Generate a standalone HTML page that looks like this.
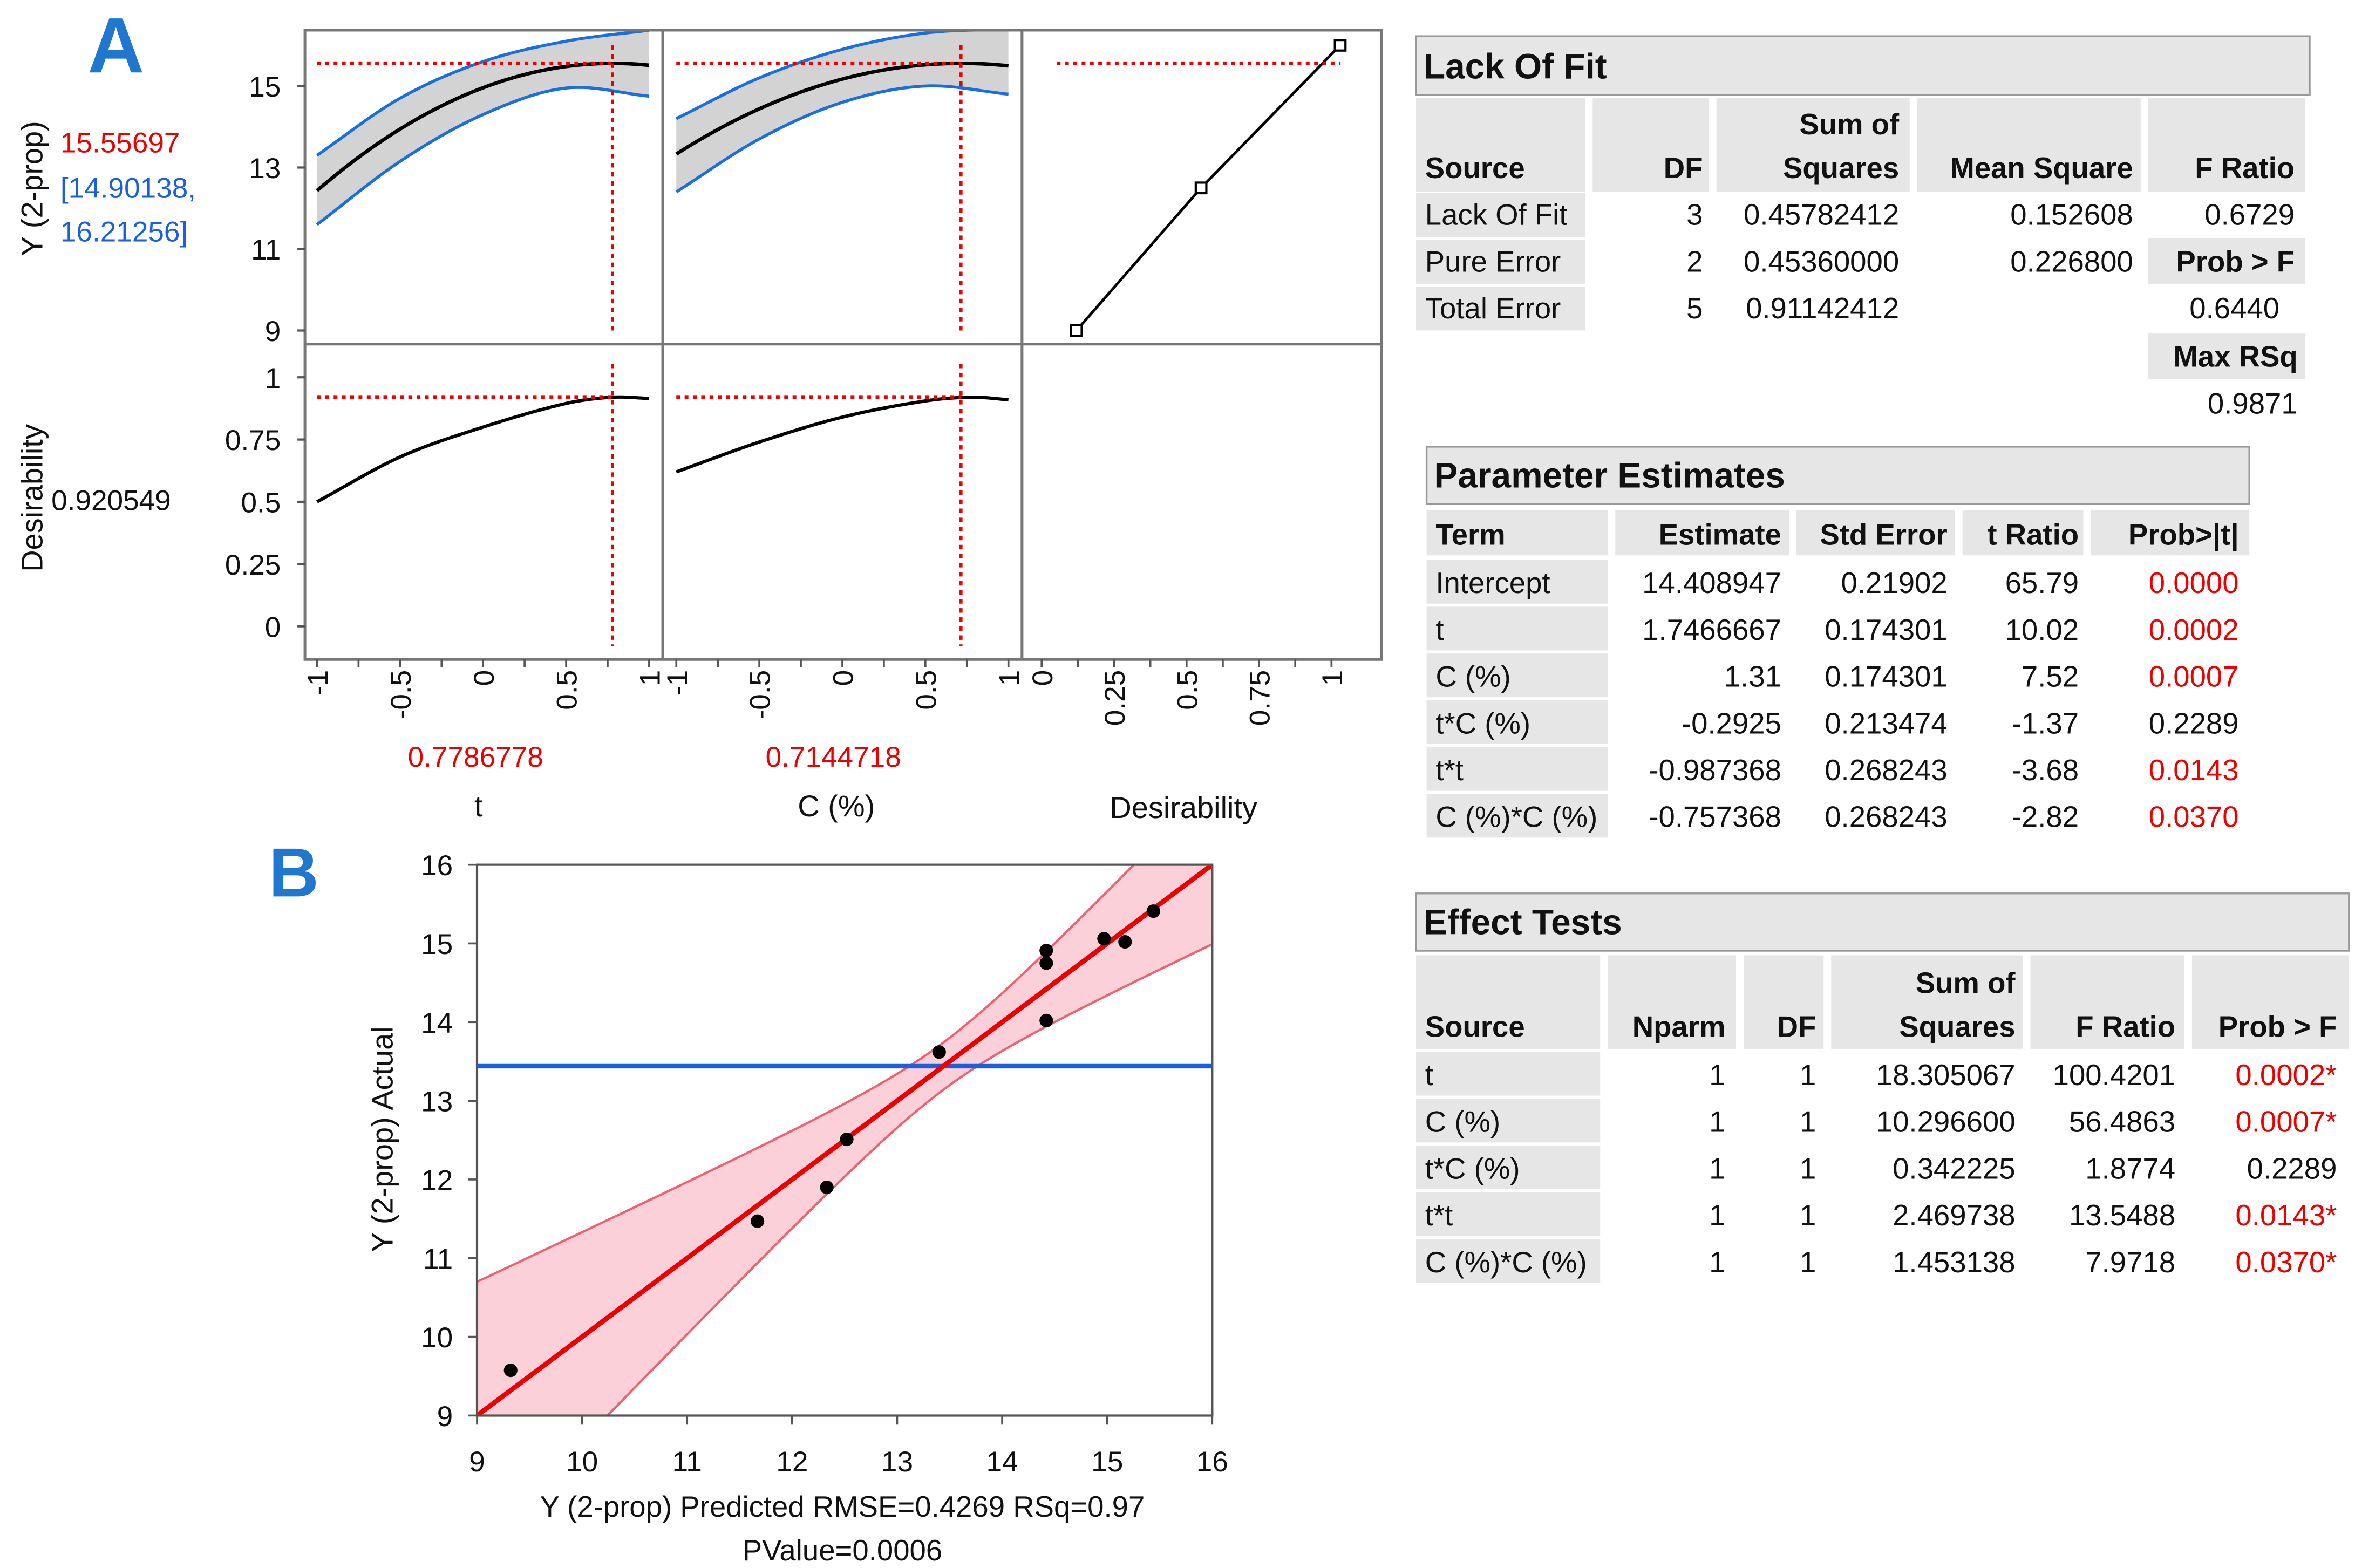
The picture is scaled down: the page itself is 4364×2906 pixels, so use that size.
<!DOCTYPE html>
<html><head><meta charset="utf-8"><style>
html,body{margin:0;padding:0;background:#fff;}
svg{display:block;font-family:"Liberation Sans","DejaVu Sans",sans-serif;}
</style></head><body>
<svg id="fig" width="4364" height="2906" viewBox="0 0 1560 1039" preserveAspectRatio="none" xmlns="http://www.w3.org/2000/svg"></svg>
<script>
// ---------- data ----------
const coefNames = ["Intercept","t","C","tC","tt","CC"];
const coefVals = [14.408947,1.7466667,1.31,-0.2925,-0.987368,-0.757368];
const optT = 0.7786778, optC = 0.7144718, optY = 15.55697, optD = 0.920549;
const bandX = [-1,-0.5,0,0.5,1];
const tUpper = [13.3,14.7,15.6,16.1,16.37];
const tLower = [11.6,13.15,14.3,14.95,14.75];
const cUpper = [14.2,15.2,15.9,16.3,16.4];
const cLower = [12.4,13.7,14.6,15.0,14.8];
const desX = [-1,-0.5,0,0.5,0.78,1];
const desT = [0.5,0.68,0.8,0.895,0.92,0.915];
const desC = [0.62,0.74,0.84,0.905,0.92,0.91];
const dfnD = [0.12,0.55,1.03];
const dfnY = [9,12.5,16];
const predX = [9.32,11.67,12.33,12.52,13.40,14.42,14.42,14.42,14.97,15.17,15.44];
const actY = [9.575,11.47,11.9,12.51,13.62,14.91,14.75,14.02,15.06,15.02,15.41];
const meanY = 13.44;
const bTicks = [9,10,11,12,13,14,15,16];

const S = document.getElementById('fig');
const NS = "http://www.w3.org/2000/svg";
function el(tag, attrs, parent){ const e=document.createElementNS(NS,tag); for(const k in attrs) e.setAttribute(k,attrs[k]); (parent||S).appendChild(e); return e; }
function txt(x,y,s,size,opts){ opts=opts||{}; const e=el('text',{x:x,y:y,'font-size':size,fill:opts.fill||'#111','text-anchor':opts.anchor||'start','font-weight':opts.bold?'bold':'normal'}); if(opts.rot) e.setAttribute('transform','rotate('+opts.rot+' '+x+' '+y+')'); e.textContent=s; return e; }
function pred(t,c){ return coefVals[0]+coefVals[1]*t+coefVals[2]*c+coefVals[3]*t*c+coefVals[4]*t*t+coefVals[5]*c*c; }
// smooth cubic Hermite interpolation
function interp(xs,ys,x){
  const n=xs.length;
  function slope(i){ if(i===0) return (ys[1]-ys[0])/(xs[1]-xs[0]); if(i===n-1) return (ys[n-1]-ys[n-2])/(xs[n-1]-xs[n-2]); return (ys[i+1]-ys[i-1])/(xs[i+1]-xs[i-1]); }
  for(let i=0;i<n-1;i++){ if(x<=xs[i+1]+1e-9){ const h=xs[i+1]-xs[i], t=(x-xs[i])/h;
    const h00=2*t*t*t-3*t*t+1,h10=t*t*t-2*t*t+t,h01=-2*t*t*t+3*t*t,h11=t*t*t-t*t;
    return h00*ys[i]+h10*h*slope(i)+h01*ys[i+1]+h11*h*slope(i+1); } }
  return ys[n-1];
}

const yTop = v => 57-(v-15)*27;
const yBot = v => 415-v*165;
const xT = v => 210+(v+1)*110;
const xC = v => 448+(v+1)*110;
const xD = v => 690+v*192;

let e;
e = txt(58,48,"A",52,{fill:'#1f77d0',bold:true});
 
e = txt(178,594,"B",46,{fill:'#1f77d0',bold:true});
 

const defs = el('defs',{});
const cp = el('clipPath',{id:'topclip'},defs); el('rect',{x:202,y:20,width:713,height:208},cp);
const cpb = el('clipPath',{id:'bclip'},defs); el('rect',{x:316,y:573,width:487,height:365},cpb);

function band(xf, up, lo, name){
  let d=''; for(let v=-1;v<=1.0001;v+=0.02){ d+=(d?'L':'M')+xf(v)+','+yTop(interp(bandX,up,v)); }
  for(let v=1;v>=-1.0001;v-=0.02){ d+='L'+xf(v)+','+yTop(interp(bandX,lo,v)); }
  const g=el('g',{'clip-path':'url(#topclip)'});
  e=el('path',{d:d+'Z',fill:'#d3d3d3',stroke:'none'},g);
   
  let du='',dl=''; for(let v=-1;v<=1.0001;v+=0.02){ du+=(du?'L':'M')+xf(v)+','+yTop(interp(bandX,up,v)); dl+=(dl?'L':'M')+xf(v)+','+yTop(interp(bandX,lo,v)); }
  e=el('path',{d:du,fill:'none',stroke:'#1a6fe0','stroke-width':2},g);
   
  e=el('path',{d:dl,fill:'none',stroke:'#1a6fe0','stroke-width':2},g);
   
}
band(xT,tUpper,tLower,'t-profile');
band(xC,cUpper,cLower,'c-profile');
let dp='',dq='';
for(let v=-1;v<=1.0001;v+=0.025){ dp+=(dp?'L':'M')+xT(v)+','+yTop(pred(v,optC)); dq+=(dq?'L':'M')+xC(v)+','+yTop(pred(optT,v)); }
e=el('path',{d:dp,fill:'none',stroke:'#000','stroke-width':2.4});  
e=el('path',{d:dq,fill:'none',stroke:'#000','stroke-width':2.4});  
let d1='',d2='';
for(let v=-1;v<=1.0001;v+=0.02){ d1+=(d1?'L':'M')+xT(v)+','+yBot(interp(desX,desT,v)); d2+=(d2?'L':'M')+xC(v)+','+yBot(interp(desX,desC,v)); }
e=el('path',{d:d1,fill:'none',stroke:'#000','stroke-width':2.2});  
e=el('path',{d:d2,fill:'none',stroke:'#000','stroke-width':2.2});  
let dd=''; dfnD.forEach((v,i)=>{dd+=(i?'L':'M')+xD(v)+','+yTop(dfnY[i]);});
e=el('path',{d:dd,fill:'none',stroke:'#000','stroke-width':1.8});  
dfnD.forEach((v,i)=>{ e=el('rect',{x:xD(v)-3.5,y:yTop(dfnY[i])-3.5,width:7,height:7,fill:'#fff',stroke:'#000','stroke-width':1.5});   });

const rd={stroke:'#e00','stroke-width':2,'stroke-dasharray':'3,3',fill:'none'};
function line(x1,y1,x2,y2,a,name,inter){ const o=Object.assign({x1:x1,y1:y1,x2:x2,y2:y2},a); const l=el('line',o);   return l; }
const rh={stroke:'#e00','stroke-width':2.5,'stroke-dasharray':'2.5,3'};
line(210,yTop(optY),xT(optT),yTop(optY),rh,'t-y-crosshair');
line(448,yTop(optY),xC(optC),yTop(optY),rh,'c-y-crosshair');
line(700,yTop(optY),888,yTop(optY),rh,'d-y-crosshair');
line(210,yBot(optD),xT(optT),yBot(optD),rh,'t-d-crosshair');
line(448,yBot(optD),xC(optC),yBot(optD),rh,'c-d-crosshair');
[[xT(optT),'t'],[xC(optC),'c']].forEach(p=>{
  line(p[0],30,p[0],220,rd,p[1]+'-x-crosshair-top',true);
  line(p[0],241,p[0],428,rd,p[1]+'-x-crosshair-bottom',true);
});

const fr={stroke:'#777','stroke-width':1.8,fill:'none'};
e=el('rect',Object.assign({x:202,y:20,width:713,height:417},fr));  
line(202,228,915,228,fr,'profiler-row-divider');
line(439,20,439,437,fr,'profiler-col-divider-1');
line(677,20,677,437,fr,'profiler-col-divider-2');

[[15,'15'],[13,'13'],[11,'11'],[9,'9']].forEach(t=>{ line(197,yTop(t[0]),202,yTop(t[0]),{stroke:'#555','stroke-width':1.5},'y-tick'); e=txt(186,yTop(t[0])+7,t[1],19,{anchor:'end'});   });
[[1,'1'],[0.75,'0.75'],[0.5,'0.5'],[0.25,'0.25'],[0,'0']].forEach(t=>{ line(197,yBot(t[0]),202,yBot(t[0]),{stroke:'#555','stroke-width':1.5},'d-tick'); e=txt(186,yBot(t[0])+7,t[1],19,{anchor:'end'});   });
const tl=['-1','-0.5','0','0.5','1'];
[-1,-0.5,0,0.5,1].forEach((v,i)=>{
  e=txt(xT(v)+7,444,tl[i],19,{anchor:'end',rot:-90});  
  e=txt(xC(v)+7,444,tl[i],19,{anchor:'end',rot:-90});  
});
for(let v=-1;v<=1.001;v+=0.25){ line(xT(v),437,xT(v),442,{stroke:'#555','stroke-width':1.3},'t-tick'); line(xC(v),437,xC(v),442,{stroke:'#555','stroke-width':1.3},'c-tick'); }
for(let v=0;v<=1.001;v+=0.125){ line(xD(v),437,xD(v),442,{stroke:'#555','stroke-width':1.3},'d-x-tick'); }
['0','0.25','0.5','0.75','1'].forEach((s,i)=>{ e=txt(xD(i*0.25)+7,444,s,19,{anchor:'end',rot:-90});   });

e=txt(28,125,"Y (2-prop)",20,{anchor:'middle',rot:-90});  
e=txt(40,101,"15.55697",19,{fill:'#e00'});  
e=txt(40,131,"[14.90138,",19,{fill:'#1a5fe0'});  
e=txt(40,160,"16.21256]",19,{fill:'#1a5fe0'});  
e=txt(28,330,"Desirability",20,{anchor:'middle',rot:-90});  
e=txt(34,338,"0.920549",19);  
e=txt(315,508,"0.7786778",19,{fill:'#e00',anchor:'middle'});  
e=txt(552,508,"0.7144718",19,{fill:'#e00',anchor:'middle'});  
e=txt(317,541,"t",20,{anchor:'middle'});  
e=txt(554,541,"C (%)",20,{anchor:'middle'});  
e=txt(784,542,"Desirability",20,{anchor:'middle'});  

// ---------- Plot B ----------
const bx = v => 316+(v-9)*69.57;
const by = v => 573+(16-v)*52.14;
const gB = el('g',{'clip-path':'url(#bclip)'});
let up='',lo='';
for(let v=9;v<=16.001;v+=0.1){ const h=Math.sqrt(0.09+0.142*(v-meanY)*(v-meanY)); up+=(up?'L':'M')+bx(v)+','+by(v+h); lo+=(lo?'L':'M')+bx(v)+','+by(v-h); }
let band2=up; for(let v=16;v>=8.999;v-=0.1){ const h=Math.sqrt(0.09+0.142*(v-meanY)*(v-meanY)); band2+='L'+bx(v)+','+by(v-h); }
e=el('path',{d:band2+'Z',fill:'#fbd0d8',stroke:'none'},gB);  
e=el('path',{d:up,fill:'none',stroke:'#f06070','stroke-width':1.5},gB);  
e=el('path',{d:lo,fill:'none',stroke:'#f06070','stroke-width':1.5},gB);  
e=el('line',{x1:bx(9),y1:by(meanY),x2:bx(16),y2:by(meanY),stroke:'#1a5fe0','stroke-width':3},gB);  
e=el('line',{x1:bx(9),y1:by(9),x2:bx(16),y2:by(16),stroke:'#e00','stroke-width':3.2},gB);  
predX.forEach((v,i)=>{ const c=el('circle',{cx:bx(v),cy:by(actY[i]),r:4.5,fill:'#000'});   });
e=el('rect',{x:316,y:573,width:487,height:365,fill:'none',stroke:'#555','stroke-width':1.5});  
bTicks.forEach(v=>{
  line(bx(v),938,bx(v),944,{stroke:'#555','stroke-width':1.3},'x-tick');
  e=txt(bx(v),975,String(v),19,{anchor:'middle'});  
  line(310,by(v),316,by(v),{stroke:'#555','stroke-width':1.3},'y-tick');
  e=txt(300,by(v)+7,String(v),19,{anchor:'end'});  
});
e=txt(558,1005,"Y (2-prop) Predicted RMSE=0.4269 RSq=0.97",19.5,{anchor:'middle'});  
e=txt(558,1034,"PValue=0.0006",19.5,{anchor:'middle'});  
e=txt(260,755,"Y (2-prop) Actual",20,{anchor:'middle',rot:-90});  

// ---------- Tables ----------
const G='#e6e6e6';
function cell(x,y,w,h,name){ const r=el('rect',{x:x,y:y,width:w,height:h,fill:G});   }
function header(x,y,w,h,s,name){ const r=el('rect',{x:x,y:y,width:w,height:h,fill:G,stroke:'#999','stroke-width':1.2});   const t=txt(x+5,y+h-11,s,23.5,{bold:true});   }
const FS=19.5;
header(938,24,592,39,"Lack Of Fit",'lack-of-fit-header');
[[938,112],[1055,77],[1137,128],[1270,148],[1423,104]].forEach(c=>cell(c[0],65,c[1],62,'lof-column-header'));
[['Source',944,'start'],['DF',1128,'end'],['Mean Square',1413,'end'],['F Ratio',1520,'end']].forEach(h=>{e=txt(h[1],118,h[0],FS,{bold:true,anchor:h[2]});  });
e=txt(1258,89,"Sum of",FS,{bold:true,anchor:'end'});  
e=txt(1258,118,"Squares",FS,{bold:true,anchor:'end'});  
const lofRows=[["Lack Of Fit","3","0.45782412","0.152608","0.6729"],["Pure Error","2","0.45360000","0.226800",""],["Total Error","5","0.91142412","",""]];
lofRows.forEach((r,i)=>{ const y=149+i*31; cell(938,y-21,112,29,'lof-source-cell');
  e=txt(944,y,r[0],FS);  
  [[1128,r[1]],[1258,r[2]],[1413,r[3]],[1520,r[4]]].forEach(c=>{ if(c[1]){e=txt(c[0],y,c[1],FS,{anchor:'end'});  } }); });
cell(1423,158,104,30,'prob-f-cell'); e=txt(1520,180,"Prob > F",FS,{bold:true,anchor:'end'});  
e=txt(1510,211,"0.6440",FS,{anchor:'end'});  
cell(1423,221,104,30,'max-rsq-cell'); e=txt(1522,243,"Max RSq",FS,{bold:true,anchor:'end'});  
e=txt(1522,274,"0.9871",FS,{anchor:'end'});  

header(945,296,545,38,"Parameter Estimates",'parameter-estimates-header');
[[945,120],[1070,115],[1190,105],[1300,80],[1385,105]].forEach(c=>cell(c[0],338,c[1],30,'pe-column-header'));
[['Term',951,'start'],['Estimate',1180,'end'],['Std Error',1290,'end'],['t Ratio',1377,'end'],['Prob>|t|',1483,'end']].forEach(h=>{e=txt(h[1],361,h[0],FS,{bold:true,anchor:h[2]});  });
const peTerms=["Intercept","t","C (%)","t*C (%)","t*t","C (%)*C (%)"];
const peEst=["14.408947","1.7466667","1.31","-0.2925","-0.987368","-0.757368"];
const peSE=["0.21902","0.174301","0.174301","0.213474","0.268243","0.268243"];
const peT=["65.79","10.02","7.52","-1.37","-3.68","-2.82"];
const peP=["0.0000","0.0002","0.0007","0.2289","0.0143","0.0370"];
const peSig=[1,1,1,0,1,1];
peTerms.forEach((s,i)=>{ const y=393+i*31; cell(945,y-22,120,29,'pe-term-cell');
  e=txt(951,y,s,FS);  
  e=txt(1180,y,peEst[i],FS,{anchor:'end'});  
  e=txt(1290,y,peSE[i],FS,{anchor:'end'});  
  e=txt(1377,y,peT[i],FS,{anchor:'end'});  
  e=txt(1483,y,peP[i],FS,{anchor:'end',fill:peSig[i]?'#e00':'#111'});   });

header(938,592,618,38,"Effect Tests",'effect-tests-header');
[[938,122],[1065,85],[1155,53],[1213,127],[1345,102],[1452,104]].forEach(c=>cell(c[0],633,c[1],62,'et-column-header'));
[['Source',944,'start'],['Nparm',1143,'end'],['DF',1203,'end'],['F Ratio',1441,'end'],['Prob > F',1548,'end']].forEach(h=>{e=txt(h[1],687,h[0],FS,{bold:true,anchor:h[2]});  });
e=txt(1335,658,"Sum of",FS,{bold:true,anchor:'end'});  
e=txt(1335,687,"Squares",FS,{bold:true,anchor:'end'});  
const etSrc=["t","C (%)","t*C (%)","t*t","C (%)*C (%)"];
const etSS=["18.305067","10.296600","0.342225","2.469738","1.453138"];
const etF=["100.4201","56.4863","1.8774","13.5488","7.9718"];
const etP=["0.0002*","0.0007*","0.2289","0.0143*","0.0370*"];
const etSig=[1,1,0,1,1];
etSrc.forEach((s,i)=>{ const y=719+i*31; cell(938,y-22,122,29,'et-source-cell');
  e=txt(944,y,s,FS);  
  e=txt(1143,y,"1",FS,{anchor:'end'});  
  e=txt(1203,y,"1",FS,{anchor:'end'});  
  e=txt(1335,y,etSS[i],FS,{anchor:'end'});  
  e=txt(1441,y,etF[i],FS,{anchor:'end'});  
  e=txt(1548,y,etP[i],FS,{anchor:'end',fill:etSig[i]?'#e00':'#111'});   });
</script>
</body></html>
